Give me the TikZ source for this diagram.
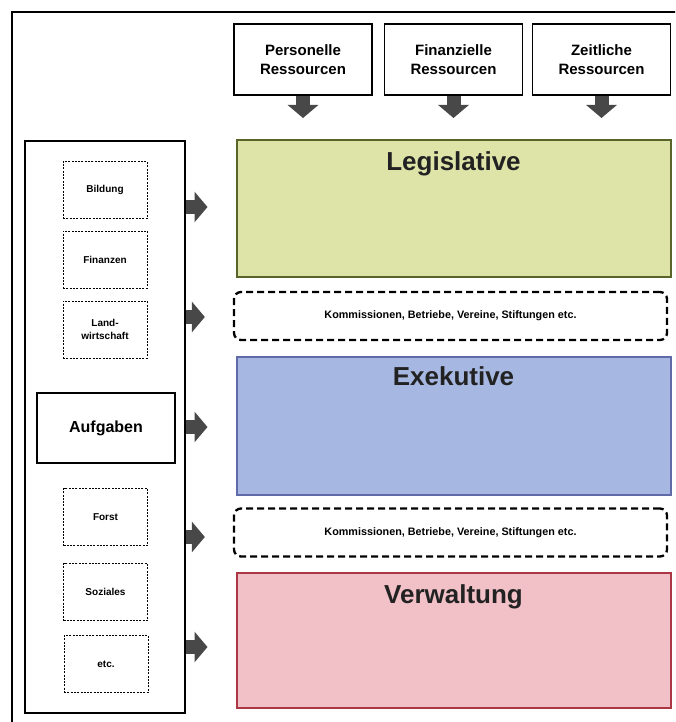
\documentclass[tikz,border=0pt]{standalone}
\usepackage{fontspec}
\setmainfont{Liberation Sans}
\usetikzlibrary{arrows.meta,positioning}
\begin{document}
\begin{tikzpicture}[x=1pt,y=-1pt,
	ressource/.style={draw=black,line width=1.3,minimum width=138,minimum height=71,inner sep=0,align=center,font=\bfseries\fontsize{15}{19}\selectfont},
	aufgabe/.style={draw=black,dash pattern=on 2pt off 1.3pt,line width=0.7,minimum width=84,minimum height=57,inner sep=0,align=center,font=\bfseries\fontsize{10}{12.5}\selectfont},
	gewalt/.style={line width=2,minimum width=434,inner sep=0},
	titel/.style={anchor=north,yshift=-12pt,inner sep=0,text=schrift,font=\bfseries\fontsize{26}{30}\selectfont},
	kommission/.style={draw=black,dash pattern=on 7pt off 4pt,line width=2.3,rounded corners=7,minimum width=433,minimum height=48,inner sep=0,font=\bfseries\fontsize{10.8}{12}\selectfont},
	blockpfeil/.style={draw=pfeil,line width=14,-{Triangle[width=30pt,length=13pt]}}
	]
	\definecolor{gruen}{RGB}{222,228,168}
	\definecolor{gruenrand}{RGB}{88,100,42}
	\definecolor{blau}{RGB}{166,184,226}
	\definecolor{blaurand}{RGB}{96,106,168}
	\definecolor{rosa}{RGB}{242,193,199}
	\definecolor{rosarand}{RGB}{172,55,68}
	\definecolor{pfeil}{RGB}{72,72,72}
	\definecolor{schrift}{RGB}{34,34,34}
	
	\useasboundingbox (0,0) rectangle (675,722);
	\clip (0,0) rectangle (675,722);
	\draw[line width=1.2] (12,740) -- (12,12) -- (700,12);
	
	%Ressourcen
	\node[ressource] (pers) at (303,59.5) {Personelle\\Ressourcen};
	\node[ressource] (fin) at (453.5,59.5) {Finanzielle\\Ressourcen};
	\node[ressource] (zeit) at (601.5,59.5) {Zeitliche\\Ressourcen};
	
	%Gewalten
	\node[gewalt,draw=gruenrand,fill=gruen,minimum height=137,label={[titel]north:Legislative}] (leg) at (453.5,208.5) {};
	\node[kommission] (kom1) at (450.5,316) {Kommissionen, Betriebe, Vereine, Stiftungen etc.};
	\node[gewalt,draw=blaurand,fill=blau,minimum height=138,label={[titel,yshift=2pt]north:Exekutive}] (exe) at (453.5,426) {};
	\node[kommission] (kom2) at (450.5,532.5) {Kommissionen, Betriebe, Vereine, Stiftungen etc.};
	\node[gewalt,draw=rosarand,fill=rosa,minimum height=135,label={[titel]north:Verwaltung}] (verw) at (453.5,640.5) {};
	
	%Aufgaben
	\node[draw=black,line width=1.5,minimum width=160,minimum height=572,inner sep=0] (tasks) at (105,427) {};
	\node[aufgabe] (bild) at (105,190) {Bildung};
	\node[aufgabe] (finanz) at (105,259.5) {Finanzen};
	\node[aufgabe] (land) at (105,329.5) {Land-\\wirtschaft};
	\node[draw=black,line width=1.5,minimum width=138,minimum height=70,inner sep=0,font=\bfseries\fontsize{16}{19}\selectfont] (aufg) at (106,428) {Aufgaben};
	\node[aufgabe] (forst) at (105.5,517) {Forst};
	\node[aufgabe] (soz) at (105.5,592) {Soziales};
	\node[aufgabe] (etc) at (106,664) {etc.};
	
	\foreach \quelle in {pers,fin,zeit}
		\draw[blockpfeil,shorten >=21pt] (\quelle.south) -- (\quelle.south |- leg.north);
	\foreach \ziel/\dy in {leg/1.5,kom1/-1,exe/-1,kom2/-4.5,verw/-6.5}{
		\coordinate (z) at ([yshift=\dy pt]\ziel.west);
		\draw[blockpfeil,shorten >=28pt] (tasks.east |- z) -- (z);
	}
\end{tikzpicture}
\end{document}
